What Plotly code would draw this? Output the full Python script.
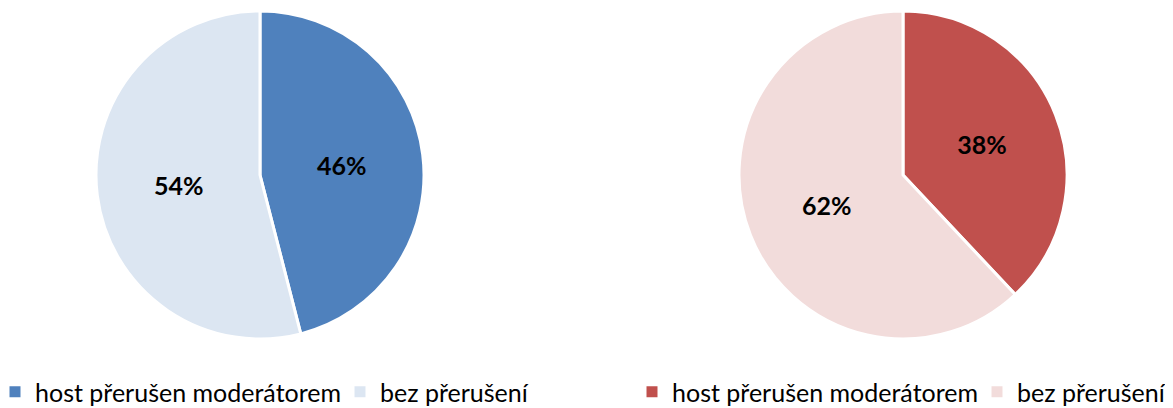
import plotly.graph_objects as go

labels = ['host přerušen moderátorem', 'bez přerušení']
left_values = [46, 54]
right_values = [38, 62]
left_colors = ['#4F81BD', '#DCE6F2']
right_colors = ['#C0504D', '#F2DCDB']

# the page body has an 8px margin, so the figure is drawn 8px smaller
W, H = 1165, 400
FONT = 'Lato'

fig = go.Figure()


def add_pie(values, colors, x0, x1):
    fig.add_trace(go.Pie(
        labels=labels, values=values, sort=False, direction='clockwise',
        rotation=0, marker=dict(colors=colors, line=dict(color='white', width=3)),
        texttemplate='%{value}%', textposition='inside',
        insidetextorientation='horizontal',
        textfont=dict(family=FONT, size=25, color='black', weight='bold'),
        domain=dict(x=[x0 / W, x1 / W], y=[69 / H, 397 / H]),
        showlegend=False, hoverinfo='label+percent',
    ))


add_pie(left_values, left_colors, 88, 416)
add_pie(right_values, right_colors, 731, 1059)

# legend entries (pie slices share labels, so each legend gets its own markers)
for legend_id, colors in [('legend', left_colors), ('legend2', right_colors)]:
    for lab, col in zip(labels, colors):
        fig.add_trace(go.Scatter(
            x=[None], y=[None], mode='markers', name=lab,
            marker=dict(symbol='square', size=11, color=col),
            legend=legend_id, showlegend=True, hoverinfo='skip',
        ))

legend_style = dict(
    orientation='h', yanchor='middle', y=16 / H,
    font=dict(family=FONT, size=25, color='black'),
    bgcolor='rgba(0,0,0,0)', itemclick=False, itemdoubleclick=False,
    tracegroupgap=0, itemwidth=30, entrywidth=300,
)

fig.update_layout(
    width=W, height=H,
    margin=dict(l=0, r=0, t=0, b=0, autoexpand=False),
    paper_bgcolor='white', plot_bgcolor='white',
    font=dict(family=FONT),
    xaxis=dict(visible=False), yaxis=dict(visible=False),
    legend=dict(legend_style, x=677 / W, xanchor='right'),
    legend2=dict(legend_style, x=624 / W, xanchor='left'),
    showlegend=True,
)

fig.write_html('out.html')
